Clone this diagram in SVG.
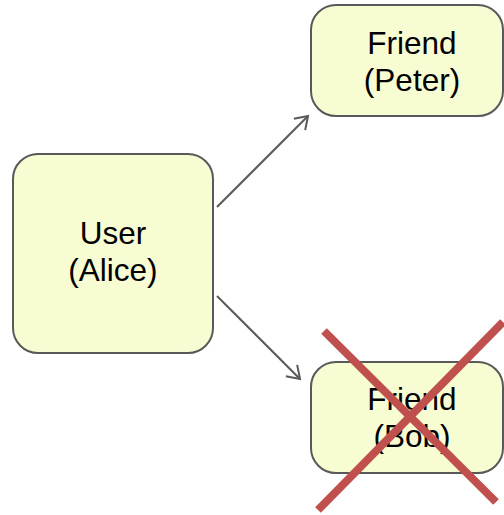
<svg xmlns="http://www.w3.org/2000/svg" width="504" height="515" viewBox="0 0 504 515">
  <style>
    .box { fill: #f8fcd3; stroke: #595959; stroke-width: 2; }
    .label { font-family: "Liberation Sans", Arial, sans-serif; font-size: 31.5px; fill: #000; text-anchor: middle; }
    .edge { stroke: #595959; stroke-width: 2; fill: none; }
    .cross { stroke: #c0504d; stroke-width: 8; stroke-linecap: butt; }
  </style>
  <defs>
    <marker id="open-arrow" viewBox="0 0 20 20" refX="16" refY="10" markerWidth="20" markerHeight="20" markerUnits="userSpaceOnUse" orient="auto">
      <path d="M4 2 L16 10 L4 18" fill="none" stroke="#595959" stroke-width="2"/>
    </marker>
  </defs>

  <g id="connectors">
    <line class="edge" x1="217" y1="207" x2="308" y2="116" marker-end="url(#open-arrow)"/>
    <line class="edge" x1="217" y1="296" x2="300" y2="379" marker-end="url(#open-arrow)"/>
  </g>

  <g id="user-alice">
    <rect class="box" x="13" y="154" width="200" height="199" rx="25" ry="25"/>
    <text class="label" x="113" y="244">User</text>
    <text class="label" x="113" y="281">(Alice)</text>
  </g>

  <g id="friend-peter">
    <rect class="box" x="311" y="5" width="192" height="111" rx="25" ry="25"/>
    <text class="label" x="412" y="54">Friend</text>
    <text class="label" x="412" y="91">(Peter)</text>
  </g>

  <g id="friend-bob">
    <rect class="box" x="311" y="362" width="192" height="111" rx="25" ry="25"/>
    <text class="label" x="412" y="410">Friend</text>
    <text class="label" x="412" y="447">(Bob)</text>
  </g>

  <!-- strike-through over the removed friend -->
  <g id="removed-mark">
    <line class="cross" x1="324" y1="331" x2="496" y2="502"/>
    <line class="cross" x1="503" y1="322" x2="318" y2="510"/>
  </g>
</svg>
